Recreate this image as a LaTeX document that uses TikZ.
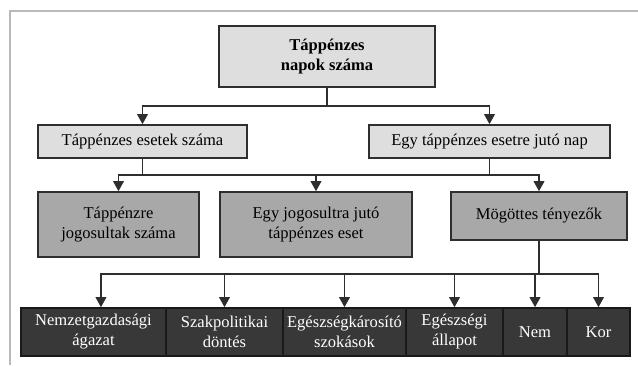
\documentclass[tikz,border=0pt]{standalone}
\usepackage{fontspec}
\setmainfont{Liberation Serif}
\usetikzlibrary{arrows.meta}

\definecolor{boxlight}{HTML}{DEDEDE}
\definecolor{boxmid}{HTML}{A8A8A8}
\definecolor{boxdark}{HTML}{383838}
\definecolor{linegray}{HTML}{2E2E2E}

\tikzset{
  box/.style={draw=linegray, line width=1.2pt, inner sep=0pt, align=center,
    font=\fontsize{12.4}{15}\selectfont},
  lightbox/.style={box, fill=boxlight},
  midbox/.style={box, fill=boxmid},
  darkbox/.style={box, fill=boxdark, draw=black!90, text=white!90,
    minimum height=36pt},
  conn/.style={draw=linegray, line width=1pt},
  arr/.style={conn, -{Triangle[width=8pt,length=7.5pt]}},
  frame/.style={draw=gray!55, line width=1.6pt}
}

\begin{document}
\begin{tikzpicture}[x=0.75pt,y=-0.75pt]
\useasboundingbox (0,0) rectangle (638,365);
\draw[frame] (10,365) -- (10,11) -- (638,11);

% top level
\node[lightbox, minimum width=162pt, minimum height=45.75pt] (top) at (327,56.5)
  {\textbf{Táppénzes}\\\textbf{napok száma}};

% second level
\node[lightbox, minimum width=156.75pt, minimum height=24.75pt] (esetek) at (142.5,141.5)
  {Táppénzes esetek száma};
\node[lightbox, minimum width=180.75pt, minimum height=24.75pt] (napok) at (489.5,141.5)
  {Egy táppénzes esetre jutó nap};

% third level
\node[midbox, minimum width=120.75pt, minimum height=48.75pt] (jogosult) at (118.5,224.5)
  {Táppénzre\\jogosultak száma};
\node[midbox, minimum width=144pt, minimum height=48.75pt] (esetjog) at (316,224.5)
  {Egy jogosultra jutó\\táppénzes eset};
\node[midbox, minimum width=132pt, minimum height=36pt] (mogottes) at (539,216)
  {Mögöttes tényezők};

% bottom row
\node[darkbox, minimum width=108.75pt] (nemzet) at (93.5,332) {Nemzetgazdasági\\ágazat};
\node[darkbox, minimum width=87.75pt] (szakpol) at (224.5,332) {Szakpolitikai\\döntés};
\node[darkbox, minimum width=92.25pt] (szokas) at (344.5,332) {Egészségkárosító\\szokások};
\node[darkbox, minimum width=72.75pt] (allapot) at (454.5,332) {Egészségi\\állapot};
\node[darkbox, minimum width=48pt] (nem) at (535,332) {Nem};
\node[darkbox, minimum width=47.25pt] (kor) at (598.5,332) {Kor};

% joints
\coordinate (j1) at (327,106);
\coordinate (j2) at (142.5,175);
\coordinate (j3) at (489.5,175);
\coordinate (j4) at (539,274);

\draw[conn] (top.south) -- (j1);
\draw[arr] (j1) -| (esetek.north);
\draw[arr] (j1) -| (napok.north);

\draw[conn] (esetek.south) -- (j2);
\draw[conn] (napok.south) -- (j3);
\draw[conn] (j2) -- (j3);
\draw[arr] (j2) -| (jogosult.north);
\draw[arr] (j2) -| (esetjog.north);
\draw[arr] (j3) -| (mogottes.north);

\draw[conn] (mogottes.south) -- (j4);
\draw[arr] (j4) -| ([xshift=5.6pt]nemzet.north);
\draw[arr] (j4) -| (szakpol.north);
\draw[arr] (j4) -| (szokas.north);
\draw[arr] (j4) -| (allapot.north);
\draw[arr] (j4) -| (nem.north);
\draw[arr] (j4) -| (kor.north);

\end{tikzpicture}
\end{document}
